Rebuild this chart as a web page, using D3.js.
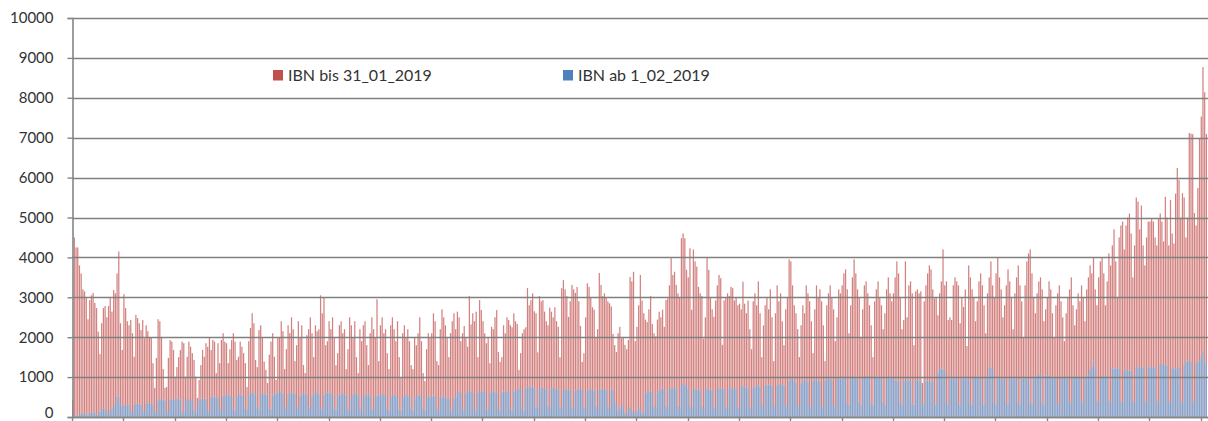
<!DOCTYPE html>
<html>
<head>
<meta charset="utf-8">
<script src="https://cdn.jsdelivr.net/npm/d3@7"></script>
<style>
  html, body { margin: 0; padding: 0; background: #ffffff; }
  svg { display: block; }
  text { font-family: Lato, "Open Sans", sans-serif; fill: #333333; }
</style>
</head>
<body>
<svg id="chart" width="1208" height="421"></svg>
<script>
// ---- Data (one value per day, 30 days per tick interval) ----
const seriesNames = ["IBN bis 31_01_2019", "IBN ab 1_02_2019"];
const seriesColors = ["#c0504d", "#4f81bd"];
const yTicks = [0, 1000, 2000, 3000, 4000, 5000, 6000, 7000, 8000, 9000, 10000];

const redValues = [
  430,4500,4250,4250,3800,3600,3200,3150,2980,2450,2930,3050,3110,2860,2730,2140,1580,2350,2730,2780,2500,2780,2980,2640,3180,3100,3600,4150,2350,1680,
  3080,2730,2400,2300,2430,2100,1510,2560,2480,2350,2180,2430,1970,2300,2150,2000,2000,1350,730,1480,2450,2400,1980,1200,730,750,1480,1930,1890,1680,
  1010,1250,1500,1680,1890,1850,1010,1510,1890,1760,1600,1430,1010,480,930,1300,1680,1510,1850,1760,2000,1680,1930,1890,1100,1850,1350,1930,2100,1890,
  1850,1350,1700,1930,2100,1890,1430,1510,1890,1760,1600,1350,750,1900,2230,2600,2350,1430,1250,2180,2300,2000,1390,1180,850,1560,1890,2100,1510,930,
  1980,2000,2400,2150,1200,1700,2300,2100,2500,2200,1400,1800,2400,2000,2300,1300,1100,2050,2200,2500,2100,1500,2300,2150,2200,3050,2600,3000,1800,1900,
  2400,2200,2500,2000,1300,1600,2300,2400,2100,2200,1200,1700,2500,2300,2000,2400,1500,1100,2200,1900,2300,2400,1800,1300,2100,2500,2200,2000,2950,1400,
  2300,2500,2100,2200,1600,1200,2300,2500,2200,1900,2400,1500,1000,2100,2300,2000,2200,1900,1300,1200,2000,1800,2100,2500,1900,1100,900,1700,2100,2000,
  2100,2600,2400,1400,1300,2200,2700,2500,2300,2000,1500,2100,2400,2600,2200,2640,2500,1900,2100,2280,2000,1760,3030,2320,2600,2400,2640,1500,2930,2680,
  2400,2100,1850,2000,1350,2260,2200,2500,2680,1630,1380,1500,2300,2100,2500,2430,2300,2250,2600,2400,2330,1180,1600,2100,2200,2250,3230,2800,2930,3100,
  2650,2600,1620,3030,2900,2930,2640,2400,2300,2740,2640,2500,2750,2400,2260,1500,3230,3430,3200,3030,2510,2900,3310,3200,3110,3260,2900,2280,1380,1600,
  2500,3350,3260,3000,2750,2690,2000,2200,3610,3310,3030,3100,3000,2900,2850,2770,2080,1800,1630,2100,2260,1970,2000,1810,1700,1930,3510,3400,3640,1900,
  2260,2800,3560,2920,2600,2440,2380,2700,3030,2330,2100,2020,2440,2640,2500,2690,2260,2930,2970,3300,3980,3560,3640,3310,3100,2990,4480,4600,4480,3690,
  3500,4230,2690,4200,3900,3770,3260,3100,3030,1960,2500,3980,3690,2990,2700,2510,2920,3300,3560,3480,1810,2920,2990,3100,3030,3260,3230,2920,2990,2800,
  2840,2700,3390,2840,2600,2920,2200,1700,2900,3100,2800,3400,2600,1500,2300,2800,3000,2700,3200,2500,1400,2600,3300,2900,3100,2400,1800,2700,3000,3950,
  3900,3300,2800,2600,2200,1500,2300,2800,2600,3300,3100,2900,2400,1600,2700,3300,3000,3200,2900,2300,1400,2800,3100,3300,3000,2700,1900,2500,3200,3100,
  3300,3600,3700,3200,2100,2800,3500,3950,3600,3200,3000,2000,2700,3300,3400,3100,2800,2300,1500,2900,3200,3400,3000,2800,2200,2600,3200,3500,3100,2900,
  3100,3500,3900,3600,3000,2200,2430,3900,2500,3300,3400,3100,1800,3150,3200,3100,3150,850,2900,3300,3600,3800,3700,3200,2970,3000,2550,3100,3400,4200,
  3300,3400,2430,2500,2430,3300,3500,3400,3300,2350,3000,2760,3200,1780,3800,3500,3200,3000,2400,2900,3400,3600,3300,2800,2100,3100,3500,3900,3300,3000,
  3600,4000,3500,3200,2500,2800,3300,3700,3400,3000,2200,3100,3500,3800,3300,2900,2000,3300,3900,4100,4200,3600,3000,2600,3100,3400,3500,3200,2400,2700,
  3000,3400,3200,2600,2000,2800,3100,3300,2900,2500,1900,2600,3000,3200,3500,2800,2300,2700,3100,2900,3300,3000,2400,3200,3500,3800,3600,4000,3200,2800,
  3500,3900,4000,3600,2800,3400,4100,3800,4300,4700,3900,3000,4500,4800,4900,4200,4800,5000,5100,4600,3500,4300,5500,5400,4700,5300,4300,3800,4500,4900,
  4900,4960,4900,4500,4300,4960,5100,4900,4400,5520,5000,4300,5440,4600,4350,5600,6240,5940,5000,5610,5500,4500,5000,7120,7100,7090,5110,4800,5740,6970,
  7530,8770,8140,7090
];

const blueValues = [
  0,20,30,40,60,80,100,100,60,40,100,110,120,100,70,50,120,200,220,200,150,80,150,200,250,350,500,510,350,250,
  300,280,320,300,150,100,300,330,340,320,300,200,120,330,350,340,330,300,150,100,420,450,430,440,400,150,120,430,450,440,
  420,450,460,440,120,100,400,450,430,420,450,150,80,300,420,450,460,450,440,200,120,480,500,510,490,500,200,150,520,550,
  540,560,520,500,200,150,520,550,560,540,530,200,180,550,600,620,580,560,250,200,580,600,590,550,560,220,180,540,560,580,
  600,650,620,580,250,200,560,600,620,600,580,250,200,520,560,600,580,550,240,200,520,560,600,620,560,230,180,540,600,620,
  580,600,560,220,180,520,560,580,600,560,540,200,160,500,560,600,580,540,200,150,520,560,540,580,520,200,180,500,540,560,
  520,560,580,540,200,160,500,540,560,520,500,180,150,480,520,560,540,500,200,150,460,500,540,560,520,200,150,480,520,500,
  500,540,520,200,160,480,500,520,480,470,450,180,150,470,480,600,630,620,200,150,600,630,650,640,620,200,160,620,650,640,
  650,620,200,180,600,630,640,620,600,200,150,620,640,650,630,620,200,160,640,680,700,720,680,200,150,720,760,750,740,760,
  740,250,200,700,720,730,720,700,250,200,720,740,720,700,680,250,200,680,700,690,680,660,240,200,660,690,700,680,680,250,
  200,660,680,700,680,660,250,200,680,690,700,680,670,250,200,690,680,400,300,150,200,250,300,100,80,200,250,150,100,120,
  150,250,200,100,80,600,620,650,640,600,250,200,620,650,700,720,700,250,200,700,720,740,720,700,250,200,780,850,820,780,
  700,250,200,680,700,690,680,660,250,200,680,700,680,690,670,250,200,700,720,720,710,700,250,200,720,740,720,700,720,250,
  200,760,780,760,740,720,250,200,740,760,780,800,760,300,250,780,800,820,800,780,300,250,800,820,850,800,780,300,250,900,
  1000,950,900,850,300,250,850,900,950,900,880,300,250,900,950,920,900,880,300,250,920,950,980,950,900,300,250,950,980,960,
  950,980,1000,350,300,950,1000,980,960,950,350,300,980,1000,1020,1000,980,350,300,1000,1020,1000,980,960,350,300,1000,980,960,1000,
  950,920,900,920,350,300,920,900,940,920,900,340,300,920,930,920,900,350,300,900,920,900,880,900,350,300,1100,1200,1220,1180,
  1150,350,300,950,960,970,960,950,350,300,960,980,970,960,950,350,300,1000,1000,1020,1000,980,350,300,1000,1020,1240,1250,1200,350,
  300,960,980,960,950,960,350,300,960,970,960,950,980,350,300,960,970,980,960,950,350,300,1000,1020,1040,1050,1100,350,300,1040,
  1050,1040,1000,1020,1000,980,350,300,1000,1010,1000,980,1000,400,350,1000,1020,1000,1010,990,400,350,1000,1020,1050,1200,1250,1420,1200,400,
  350,1000,1020,1000,1050,1000,400,350,1220,1200,1220,1230,1200,400,350,1170,1180,1160,1170,1150,400,350,1250,1260,1240,1250,1230,400,350,1250,
  1260,1250,1240,1250,400,350,1300,1340,1320,1300,1280,400,350,1220,1240,1220,1200,1230,400,350,1300,1380,1420,1400,1380,400,350,1350,1380,1400,
  1500,1650,1400,1300
];

const days = redValues.map((_, i) => i + 1);   // day categories
const daysPerTick = 30;

// ---- Layout ----
const svg = d3.select("#chart");
const W = 1208, H = 421;
const plot = { left: 72, right: 1207, top: 18, bottom: 417 };

svg.append("rect").attr("width", W).attr("height", H).attr("fill", "#ffffff");

const x = d3.scaleBand()
  .domain(days)
  .range([plot.left, plot.right])
  .paddingInner(0.28)
  .paddingOuter(0);

const y = d3.scaleLinear().domain([0, 10000]).range([plot.bottom, plot.top]);

// ---- Bars ----
const gBars = svg.append("g");
gBars.selectAll("rect.red")
  .data(redValues)
  .join("rect")
  .attr("class", "red")
  .attr("x", (d, i) => x(days[i]))
  .attr("width", x.bandwidth())
  .attr("y", d => y(d))
  .attr("height", d => y(0) - y(d))
  .attr("fill", seriesColors[0])
  .attr("fill-opacity", 0.72);

gBars.selectAll("rect.blue")
  .data(blueValues)
  .join("rect")
  .attr("class", "blue")
  .attr("x", (d, i) => x(days[i]))
  .attr("width", x.bandwidth())
  .attr("y", d => y(d))
  .attr("height", d => y(0) - y(d))
  .attr("fill", "#ffffff");
gBars.selectAll("rect.blue2")
  .data(blueValues)
  .join("rect")
  .attr("class", "blue2")
  .attr("x", (d, i) => x(days[i]))
  .attr("width", x.bandwidth())
  .attr("y", d => y(d))
  .attr("height", d => y(0) - y(d))
  .attr("fill", seriesColors[1])
  .attr("fill-opacity", 0.72);

// ---- Gridlines (drawn over bars) ----
svg.append("g")
  .selectAll("line")
  .data(yTicks)
  .join("line")
  .attr("x1", plot.left)
  .attr("x2", W)
  .attr("y1", d => Math.round(y(d)) + 0.5)
  .attr("y2", d => Math.round(y(d)) + 0.5)
  .attr("stroke", "#808080")
  .attr("stroke-width", 1.7);

// ---- Y axis ----
const yAxis = d3.axisLeft(y).tickValues(yTicks).tickSize(5).tickPadding(14).tickFormat(d3.format("d"));
const gy = svg.append("g").attr("transform", `translate(${plot.left + 0.5},0)`).call(yAxis);
gy.select(".domain").attr("stroke", "#868686").attr("stroke-width", 1.6);
gy.selectAll(".tick line").attr("stroke", "#868686").attr("stroke-width", 1.4);
gy.selectAll(".tick text")
  .attr("font-family", "Lato, 'Open Sans', sans-serif")
  .attr("font-size", 15)
  .attr("fill", "#333333");
gy.selectAll(".tick").filter(d => d === 0).select("text").attr("dy", "0.05em");

// ---- X axis (tick marks every 30 days at category boundaries) ----
const tickIdx = d3.range(0, days.length + 1, daysPerTick);
const gx = svg.append("g");
gx.append("line")
  .attr("x1", plot.left).attr("x2", W)
  .attr("y1", Math.round(y(0)) + 0.5).attr("y2", Math.round(y(0)) + 0.5)
  .attr("stroke", "#868686").attr("stroke-width", 1.6);
gx.selectAll("line.tk")
  .data(tickIdx)
  .join("line")
  .attr("class", "tk")
  .attr("x1", i => Math.round(plot.left + i * x.step()) + 0.5)
  .attr("x2", i => Math.round(plot.left + i * x.step()) + 0.5)
  .attr("y1", Math.round(y(0)))
  .attr("y2", H)
  .attr("stroke", "#868686")
  .attr("stroke-width", 1.4);

// ---- Legend ----
const legendX = [273, 563];
const lg = svg.append("g");
seriesNames.forEach((name, k) => {
  lg.append("rect")
    .attr("x", legendX[k]).attr("y", 70)
    .attr("width", 10).attr("height", 10.5)
    .attr("fill", seriesColors[k]);
  lg.append("text")
    .attr("x", legendX[k] + 15).attr("y", 81)
    .attr("font-size", 16)
    .text(name);
});
</script>
</body>
</html>
